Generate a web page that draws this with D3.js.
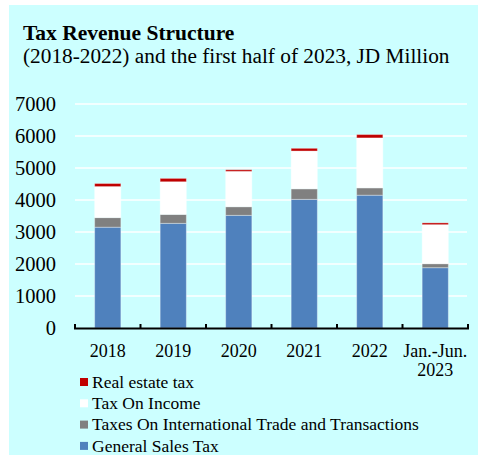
<!DOCTYPE html>
<html>
<head>
<meta charset="utf-8">
<script src="https://cdn.jsdelivr.net/npm/d3@7"></script>
<style>
  body { margin: 0; background: #fff; }
  text { font-family: "Liberation Serif", "Times New Roman", serif; fill: #000; }
</style>
</head>
<body>
<script>
var width = 478;
var height = 455;

var categories = ['2018', '2019', '2020', '2021', '2022', 'Jan.-Jun.|2023'];
var salesTax = [3150, 3270, 3520, 4020, 4150, 1885];
var tradeTax = [300, 280, 270, 330, 230, 125];
var incomeTax = [970, 1020, 1105, 1180, 1560, 1220];
var realEstateTax = [95, 105, 50, 85, 105, 55];
var yTicks = [0, 1000, 2000, 3000, 4000, 5000, 6000, 7000];

var series = [
    {name: 'General Sales Tax', values: salesTax, color: '#4f81bd'},
    {name: 'Taxes On International Trade and Transactions', values: tradeTax, color: '#808080'},
    {name: 'Tax On Income', values: incomeTax, color: '#ffffff'},
    {name: 'Real estate tax', values: realEstateTax, color: '#c00000'}
];

var svg = d3.select('body').append('svg')
    .attr('width', width)
    .attr('height', height)
    .attr('font-family', '"Liberation Serif", serif');

svg.append('rect')
    .attr('x', 9).attr('y', 5)
    .attr('width', width - 9).attr('height', height - 5)
    .attr('fill', '#ccffff');

// title
svg.append('text')
    .attr('x', 23).attr('y', 40)
    .attr('font-size', 21.5)
    .attr('font-weight', 'bold')
    .text('Tax Revenue Structure');
svg.append('text')
    .attr('x', 23).attr('y', 63)
    .attr('font-size', 21.3)
    .text('(2018-2022) and the first half of 2023, JD Million');

var x = d3.scaleBand().domain(categories).range([75, 468]).paddingInner(0.6).paddingOuter(0.3);
var y = d3.scaleLinear().domain([0, 7000]).range([328, 104]);

// gridlines
svg.append('g').selectAll('line')
    .data(yTicks.slice(1))
    .enter().append('line')
    .attr('x1', 75).attr('x2', 467)
    .attr('y1', function (d) { return y(d); })
    .attr('y2', function (d) { return y(d); })
    .attr('stroke', '#ffffff')
    .attr('stroke-width', 1.5);

// y axis labels
svg.append('g').selectAll('text')
    .data(yTicks)
    .enter().append('text')
    .attr('x', 56)
    .attr('y', function (d) { return y(d); })
    .attr('dy', '0.35em')
    .attr('text-anchor', 'end')
    .attr('font-size', 20.5)
    .text(function (d) { return d; });

// stacked bars
var rows = categories.map(function (c, i) {
    var r = {cat: c};
    series.forEach(function (s) { r[s.name] = s.values[i]; });
    return r;
});
var stack = d3.stack().keys(series.map(function (s) { return s.name; }));
var layers = stack(rows);

svg.append('g').selectAll('g')
    .data(layers)
    .enter().append('g')
    .attr('fill', function (d, i) { return series[i].color; })
    .selectAll('rect')
    .data(function (d) { return d; })
    .enter().append('rect')
    .attr('x', function (d) { return x(d.data.cat); })
    .attr('width', x.bandwidth())
    .attr('y', function (d) { return y(d[1]); })
    .attr('height', function (d) { return y(d[0]) - y(d[1]); })
    .attr('stroke', 'rgba(255,255,255,0.35)')
    .attr('stroke-width', 1);

// x axis
var bounds = d3.range(categories.length + 1).map(function (i) { return 75 + i * (393 / categories.length); });
svg.append('line')
    .attr('x1', 74).attr('x2', 469)
    .attr('y1', 328.5).attr('y2', 328.5)
    .attr('stroke', '#000').attr('stroke-width', 2);
svg.append('g').selectAll('line')
    .data(bounds)
    .enter().append('line')
    .attr('x1', function (d) { return d; }).attr('x2', function (d) { return d; })
    .attr('y1', 324).attr('y2', 329)
    .attr('stroke', '#000').attr('stroke-width', 2);

var xl = svg.append('g').selectAll('text')
    .data(categories)
    .enter().append('text')
    .attr('x', function (d) { return x(d) + x.bandwidth() / 2; })
    .attr('y', 357)
    .attr('text-anchor', 'middle')
    .attr('font-size', 18);
xl.selectAll('tspan')
    .data(function (d) { return d.split('|'); })
    .enter().append('tspan')
    .attr('x', function () { return this.parentNode.getAttribute('x'); })
    .attr('dy', function (d, i) { return i === 0 ? 0 : 19; })
    .text(function (d) { return d; });

// legend
var legendItems = series.slice().reverse();
var lg = svg.append('g').selectAll('g')
    .data(legendItems)
    .enter().append('g')
    .attr('transform', function (d, i) { return 'translate(80,' + (382 + i * 21.3) + ')'; });
lg.append('rect')
    .attr('x', 0).attr('y', -4)
    .attr('width', 8).attr('height', 8)
    .attr('fill', function (d) { return d.color; });
lg.append('text')
    .attr('x', 12).attr('y', 0)
    .attr('dy', '0.33em')
    .attr('font-size', 17.5)
    .text(function (d) { return d.name; });
</script>
</body>
</html>
